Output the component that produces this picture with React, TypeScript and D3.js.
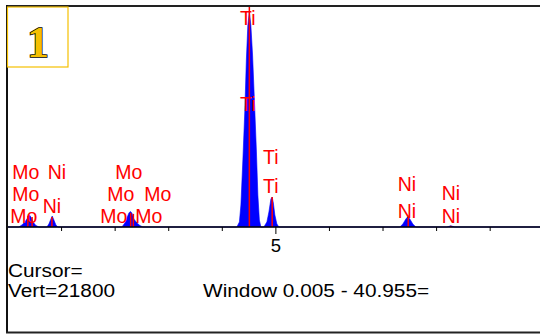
import React from "react";
import * as d3 from "d3";

// spectrum: [energy keV, counts]
const spectrum: [number, number][] = [
  [0.0, 0], [0.2, 0], [0.26, 200], [0.315, 500], [0.353, 790], [0.399, 1190],
  [0.427, 990], [0.465, 500], [0.521, 150], [0.577, 0],
  [0.726, 0], [0.763, 300], [0.801, 790], [0.825, 1090], [0.857, 690], [0.894, 200], [0.931, 0],
  [2.126, 0], [2.182, 400], [2.219, 890], [2.257, 1390], [2.284, 1540], [2.312, 1390],
  [2.35, 790], [2.406, 400], [2.462, 150], [2.518, 0],
  [4.272, 0], [4.319, 500], [4.347, 2180], [4.384, 6640], [4.421, 11590], [4.449, 16550],
  [4.477, 20010], [4.505, 21300], [4.533, 20010], [4.565, 17040], [4.599, 12590],
  [4.636, 7630], [4.664, 3170], [4.692, 690], [4.72, 0],
  [4.776, 0], [4.832, 500], [4.87, 1490], [4.907, 2770], [4.931, 2970], [4.953, 2380],
  [4.981, 1190], [5.019, 300], [5.056, 0],
  [7.314, 0], [7.37, 300], [7.426, 790], [7.463, 1020], [7.5, 790], [7.556, 300], [7.613, 0],
  [8.19, 0], [8.264, 120], [8.339, 0], [9.93, 0],
];

// element marker lines
const markerKeV = [0.37, 0.45, 0.82, 2.29, 2.34, 4.505, 4.931, 7.47, 8.264];
const markerTop = [1100, 1000, 1000, 1400, 1300, 21800, 2970, 900, 120];

// element labels (centre position in keV / counts)
const labelText = ["Mo", "Mo", "Mo", "Ni", "Ni", "Mo", "Mo", "Mo", "Mo", "Mo",
  "Ti", "Ti", "Ti", "Ti", "Ni", "Ni", "Ni", "Ni"];
const labelKeV = [0.334, 0.334, 0.297, 0.913, 0.819, 2.256, 2.107, 2.798, 1.976, 2.63,
  4.477, 4.477, 4.906, 4.906, 7.445, 7.445, 8.266, 8.266];
const labelCounts = [5450, 3270, 1090, 5450, 2080, 5450, 3270, 3270, 1090, 1090,
  20760, 12190, 6940, 4060, 4260, 1590, 3370, 1090];

const tickValues = [1, 2, 3, 4, 5, 6, 7, 8, 9];
const tickLabels = ["5"];

const W = 540;
const H = 336;
const baseY = 227;

export default function App() {
  const x = d3.scaleLinear().domain([0, 9.93]).range([8, 540]);
  const y = d3.scaleLinear().domain([0, 21800]).range([baseY, 7]);

  const area = d3
    .area<[number, number]>()
    .x((d) => x(d[0]))
    .y0(baseY)
    .y1((d) => y(d[1]));

  return (
    <svg
      width={W}
      height={H}
      style={{ position: "fixed", left: 0, top: 0, background: "#fff" }}
      fontFamily="'Liberation Sans', Arial, sans-serif"
    >
      <rect x={0} y={0} width={W} height={H} fill="#fff" />
      {/* frame */}
      <line x1={7} y1={6} x2={W} y2={6} stroke="#222" strokeWidth={2} />
      <line x1={7} y1={5} x2={7} y2={333} stroke="#111" strokeWidth={2} />
      <line x1={6} y1={332.5} x2={W} y2={332.5} stroke="#222" strokeWidth={2} />

      {/* spectrum */}
      <path d={area(spectrum) || ""} fill="#0000ff" stroke="#0000ff" strokeWidth={0.6} />

      {/* marker lines */}
      {markerKeV.map((e, i) => (
        <line
          key={"m" + i}
          x1={x(e)}
          x2={x(e)}
          y1={baseY}
          y2={y(markerTop[i])}
          stroke="#ff0000"
          strokeWidth={1.5}
        />
      ))}

      {/* labels */}
      {labelText.map((t, i) => (
        <text
          key={"l" + i}
          x={x(labelKeV[i])}
          y={y(labelCounts[i])}
          dy="0.36em"
          textAnchor="middle"
          fontSize={19.5}
          fill="#ff0000"
        >
          {t}
        </text>
      ))}

      {/* axis */}
      <line x1={8} x2={W} y1={baseY} y2={baseY} stroke="#000" strokeWidth={1.5} />
      {tickValues.map((v) => (
        <line
          key={"t" + v}
          x1={x(v)}
          x2={x(v)}
          y1={baseY}
          y2={baseY + (v % 5 === 0 ? 7 : 4)}
          stroke="#000"
          strokeWidth={1}
        />
      ))}
      {tickLabels.map((t) => (
        <text key={t} x={x(+t)} y={251.5} textAnchor="middle" fontSize={18.5} fill="#000">
          {t}
        </text>
      ))}

      {/* number badge */}
      <rect x={7.5} y={7} width={60.5} height={60} fill="#fff" stroke="#f5c000" strokeWidth={1.2} />
      <text
        x={38}
        y={57}
        textAnchor="middle"
        fontFamily="'Liberation Serif', 'DejaVu Serif', serif"
        fontWeight="bold"
        fontSize={44}
        fill="#f5c000"
        stroke="#000"
        strokeWidth={1.5}
        paintOrder="stroke"
      >
        1
      </text>

      {/* status text */}
      <g fontSize={17.5} fill="#000">
        <text transform="translate(8,276.5) scale(1.19,1)">Cursor=</text>
        <text transform="translate(8,296.5) scale(1.19,1)">Vert=21800</text>
        <text transform="translate(203,296.5) scale(1.19,1)">Window 0.005 - 40.955=</text>
      </g>
    </svg>
  );
}
